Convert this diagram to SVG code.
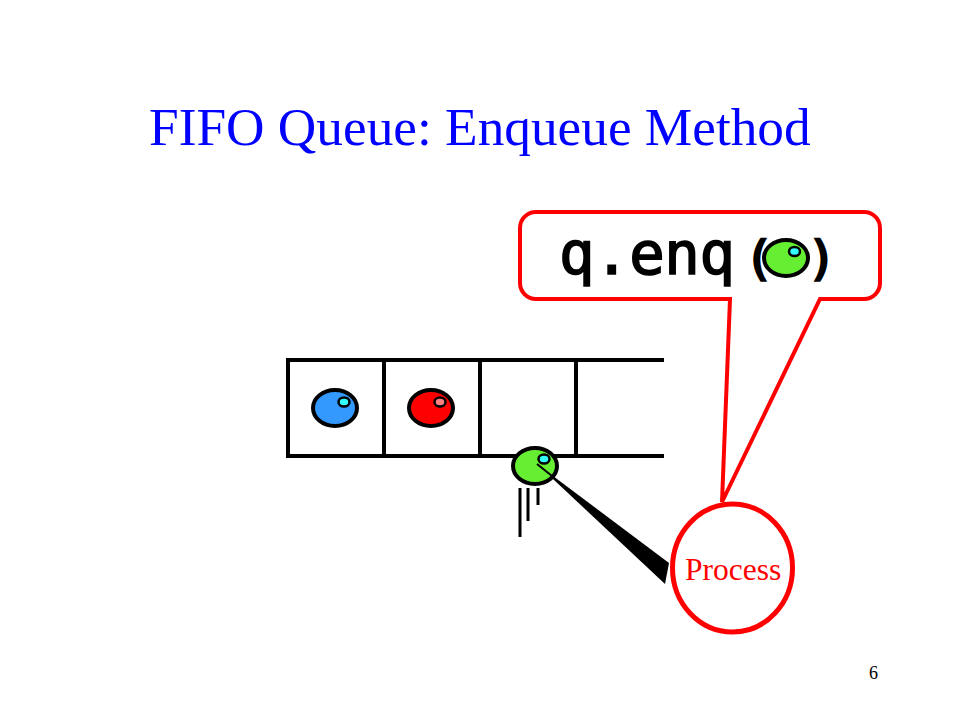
<svg xmlns="http://www.w3.org/2000/svg" width="960" height="720" viewBox="0 0 960 720">
<style>
.ball{stroke:#000;stroke-width:4}
.shine{stroke:#000;stroke-width:2.5}
.q{fill:none;stroke:#000;stroke-width:4}
.drop{stroke:#000;stroke-width:3}
.serif{font-family:"Liberation Serif","Times New Roman",serif}
.mono{font-family:"DejaVu Sans Mono","Liberation Mono",monospace;fill:#000;stroke:#000;stroke-width:1.6}
.paren{stroke-width:2.6}
</style>
<rect width="960" height="720" fill="#fff"/>
<text id="title" class="serif" x="149" y="145" font-size="53.3" fill="#0000ff">FIFO Queue: Enqueue Method</text>
<g id="queue">
<path class="q" d="M664 360H288V456H664M384 360V456M480 360V456M576 360V456"/>
</g>
<g id="ball-blue">
<ellipse class="ball" cx="335" cy="408" rx="22" ry="18" fill="#3399ff"/>
<ellipse class="shine" cx="344" cy="402" rx="5.500" ry="4.500" fill="#33ffff"/>
</g>
<g id="ball-red">
<ellipse class="ball" cx="431" cy="408" rx="22" ry="18" fill="#ff0000"/>
<ellipse class="shine" cx="440" cy="402" rx="5.500" ry="4.500" fill="#ff8080"/>
</g>
<g id="connectors">
<path d="M537 464L669 563L665 584Z" fill="#000"/>
</g>
<g id="ball-green">
<ellipse class="ball" cx="535" cy="466" rx="22" ry="18" fill="#66ee33"/>
<ellipse class="shine" cx="544" cy="459" rx="5.500" ry="4.500" fill="#33ffff"/>
<path d="M537 464L552 476" stroke="#000" stroke-width="2" fill="none"/>
<path class="drop" d="M520 488V537M528 488V521M538 488V505" fill="none"/>
</g>
<g id="process">
<path d="M536 212H864A16 16 0 0 1 880 228V283A16 16 0 0 1 864 299H820L722 502L730 299H536A16 16 0 0 1 520 283V228A16 16 0 0 1 536 212Z" fill="#fff" stroke="#ff0000" stroke-width="4"/>
<ellipse cx="732.500" cy="568" rx="60" ry="64" fill="#fff" stroke="#ff0000" stroke-width="5"/>
<text class="serif" x="685" y="580" font-size="31.500" fill="#ff0000">Process</text>
</g>
<g id="call">
<text class="mono" x="559" y="274" font-size="59" textLength="176">q.enq</text>
<text class="mono paren" x="745" y="274" font-size="46">(</text>
<text class="mono paren" x="808" y="274" font-size="46">)</text>
<ellipse class="ball" cx="786" cy="258" rx="22" ry="18" fill="#66ee33"/>
<ellipse class="shine" cx="794.500" cy="251.500" rx="5.500" ry="4.500" fill="#33ffff"/>
</g>
<text id="page" class="serif" x="869" y="679" font-size="18" fill="#000">6</text>
</svg>
